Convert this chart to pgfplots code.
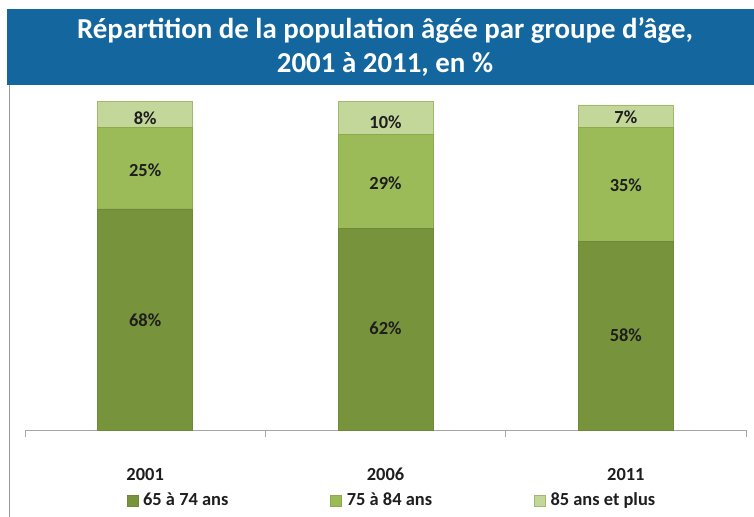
\documentclass[border=0pt]{standalone}
\usepackage{pgfplots}
\pgfplotsset{compat=1.18}
\usepackage{fontspec}
\setmainfont{Carlito}
\definecolor{titleblue}{RGB}{19,103,158}
\definecolor{gdark}{RGB}{119,147,60}
\definecolor{gmid}{RGB}{155,187,89}
\definecolor{glight}{RGB}{196,215,155}
\definecolor{bdark}{RGB}{110,138,54}
\definecolor{bmid}{RGB}{138,170,76}
\definecolor{blight}{RGB}{160,185,110}
\definecolor{txt}{RGB}{30,30,30}
\newcommand\lblfont{\fontsize{18.5}{21}\selectfont\bfseries}
\newcommand\ttlfont{\fontsize{29}{35}\selectfont\bfseries}
\pgfplotsset{commonaxis/.style={
  at={(25bp,87bp)}, anchor=south west,
  scale only axis, width=721bp, height=335bp,
  xmin=-0.5, xmax=2.5, ymin=0, ymax=103, clip=false}}
\begin{document}
\begin{tikzpicture}
\path[use as bounding box] (0bp,0bp) rectangle (754bp,517bp);
% title band
\fill[titleblue] (7bp,432bp) rectangle (754bp,508bp);
\node[text=white, font=\ttlfont, align=center] at (385bp,470bp)
  {Répartition de la population âgée par groupe d’âge,\\2001 à 2011, en \%};
% left frame line
\draw[gray!80, line width=1bp] (9bp,0bp) -- (9bp,432bp);
\begin{axis}[
  commonaxis,
  ybar stacked, bar width=95bp,
  axis y line=none, axis x line*=bottom,
  axis line style={gray!70, line width=1bp},
  xtick={0,1,2}, xticklabels={2001,2006,2011},
  typeset ticklabels with strut,
  major tick length=0pt,
  minor xtick={-0.5,0.5,1.5,2.5}, minor tick length=7bp,
  tick align=outside,
  minor tick style={gray!70, line width=1bp},
  xticklabel style={font=\lblfont, text=txt, yshift=-32bp},
  legend style={at={(0.509,-0.209)}, anchor=center, draw=none, fill=none,
    legend columns=3, font=\lblfont, text=txt,
    /tikz/every odd column/.append style={column sep=3bp},
    /tikz/every even column/.append style={column sep=100bp}},
  legend image code/.code={\draw[#1] (0bp,-6bp) rectangle (11bp,5bp);},
]
\addplot[fill=gdark, draw=bdark] coordinates {(0,68) (1,62) (2,58)};
\addplot[fill=gmid, draw=bmid] coordinates {(0,25) (1,29) (2,35)};
\addplot[fill=glight, draw=blight] coordinates {(0,8) (1,10) (2,7)};
\legend{65 à 74 ans, 75 à 84 ans, 85 ans et plus}
\end{axis}
\begin{axis}[
  commonaxis, hide axis,
  nodes near coords, point meta=explicit symbolic,
  every node near coord/.append style={anchor=center, font=\lblfont, text=txt},
]
\addplot[only marks, mark=none] coordinates {
  (0,33.8) [68\%] (0,80) [25\%] (0,95.9) [8\%]
  (1,31.4) [62\%] (1,76) [29\%] (1,94.7) [10\%]
  (2,29.2) [58\%] (2,75.3) [35\%] (2,96.2) [7\%]
};
\end{axis}
\end{tikzpicture}
\end{document}
